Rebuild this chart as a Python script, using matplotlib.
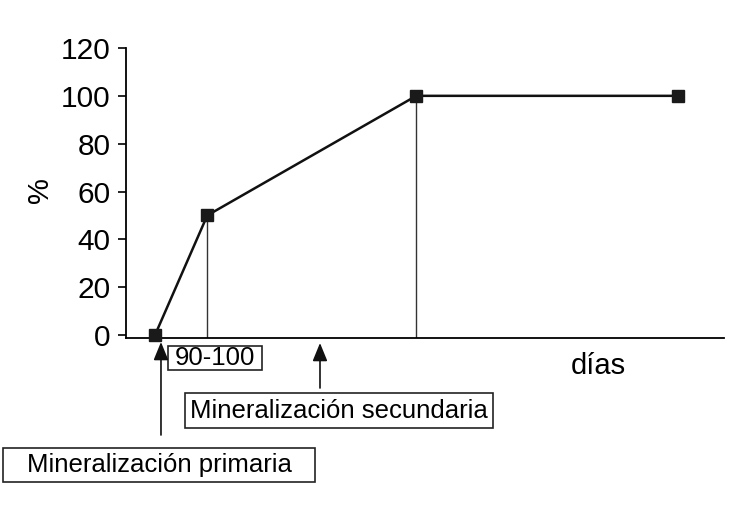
import matplotlib.pyplot as plt
from matplotlib.patches import Rectangle

plt.rcParams["font.family"] = ["Liberation Sans", "DejaVu Sans"]

# days (arbitrary scale, no ticks on the x axis) and mineralization %
dias = [1.0, 2.8, 10.0, 19.0]
pct = [0, 50, 100, 100]
yticks = [0, 20, 40, 60, 80, 100, 120]

fig = plt.figure(figsize=(7.3, 5.2), dpi=100)
ax = fig.add_axes([0.1726, 0.35, 0.8192, 0.5577])

# thin drop lines from the middle points to the axis
for xv, yv in zip(dias[1:3], pct[1:3]):
    ax.plot([xv, xv], [-1.25, yv], color="#333333", lw=1.0, zorder=2)

ax.plot(dias, pct, color="#111111", lw=1.8, marker="s", ms=8.5,
        mfc="#1a1a1a", mec="#1a1a1a", zorder=3, clip_on=False)

ax.set_xlim(0, 20.6)
ax.set_ylim(-1.25, 120)
ax.set_xticks([])
ax.set_yticks(yticks)
ax.tick_params(axis="y", length=6, width=1.2, labelsize=21.5, pad=5)
for s in ["top", "right"]:
    ax.spines[s].set_visible(False)
for s in ["left", "bottom"]:
    ax.spines[s].set_linewidth(1.3)
ax.spines["left"].set_bounds(-1.25, 120)

ax.text(-0.144, 0.51, "%", transform=ax.transAxes, rotation=90,
        ha="center", va="center", fontsize=21)
ax.text(0.789, -0.097, "días", transform=ax.transAxes,
        ha="center", va="center", fontsize=21)


def boxed(x0, x1, y0, y1, label):
    ax.add_patch(Rectangle((x0, y1), x1 - x0, y0 - y1, transform=ax.transAxes,
                           fc="white", ec="#222222", lw=1.2, clip_on=False))
    ax.text((x0 + x1) / 2, (y0 + y1) / 2, label, transform=ax.transAxes,
            ha="center", va="center", fontsize=18.5, clip_on=False)


boxed(0.0702, 0.2274, -0.0276, -0.1103, "90-100")
boxed(-0.2057, 0.316, -0.3793, -0.4966, "Mineralización primaria")
ax.text(0.3554, -0.25, "Mineralización secundaria", transform=ax.transAxes,
        ha="center", va="center", fontsize=18.5,
        bbox=dict(boxstyle="square,pad=0.2", fc="white", ec="#222222", lw=1.2))

arrow = dict(arrowstyle="-|>,head_length=1.1,head_width=0.45", color="#111111",
             lw=1.2, shrinkA=0, shrinkB=0)
ax.annotate("", xy=(0.0585, -0.0138), xytext=(0.0585, -0.3345),
            xycoords="axes fraction", textcoords="axes fraction",
            arrowprops=arrow)
ax.annotate("", xy=(0.3244, -0.0172), xytext=(0.3244, -0.1724),
            xycoords="axes fraction", textcoords="axes fraction",
            arrowprops=arrow)

fig.savefig("out.png", dpi=100)
